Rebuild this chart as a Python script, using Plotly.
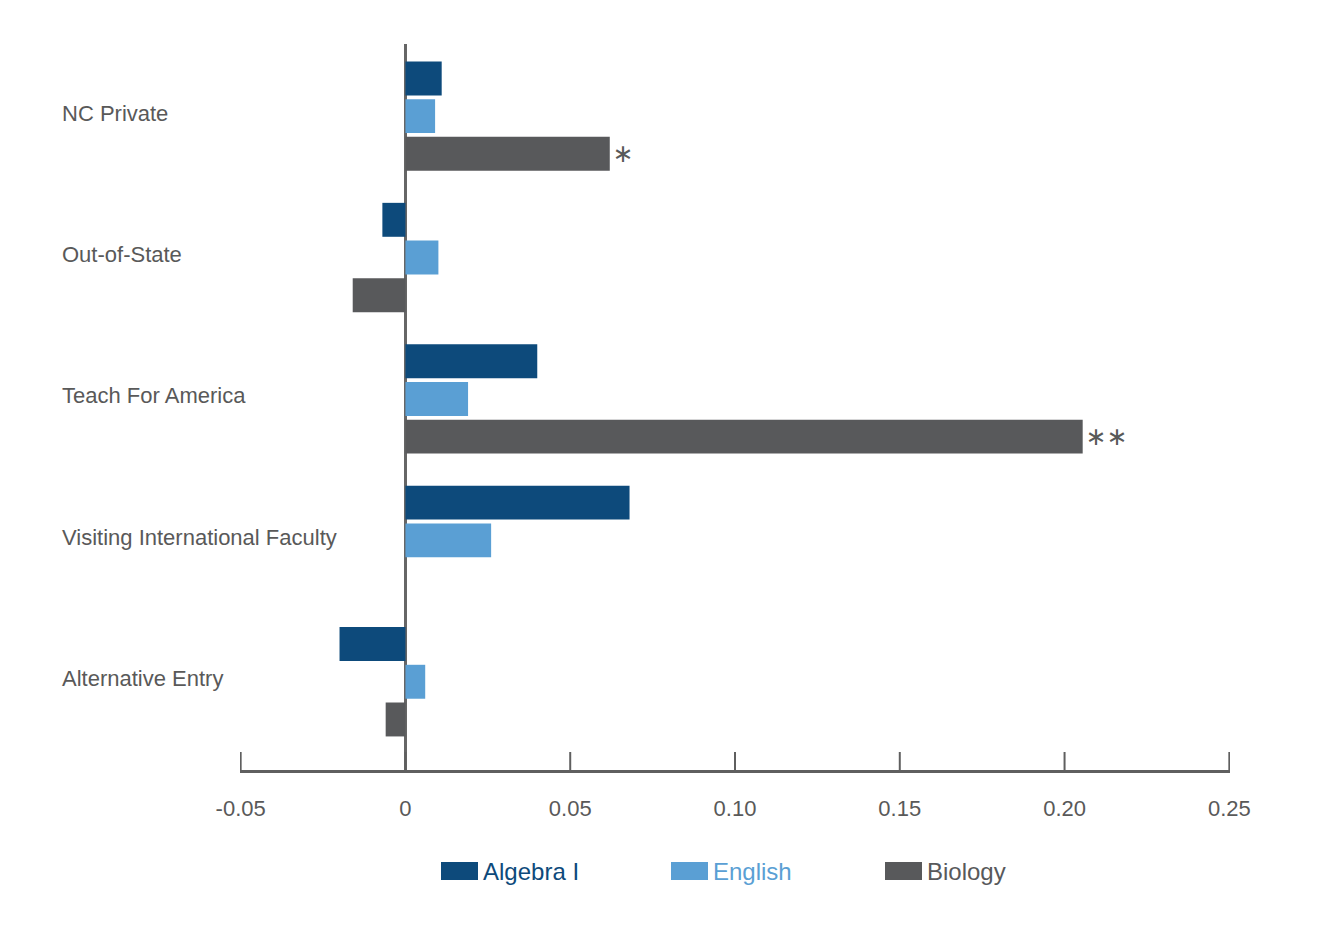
import plotly.graph_objects as go

# ---- data ----
categories = ["NC Private", "Out-of-State", "Teach For America",
              "Visiting International Faculty", "Alternative Entry"]
series_names = ["Algebra I", "English", "Biology"]
algebra = [0.011, -0.007, 0.040, 0.068, -0.020]
english = [0.009, 0.010, 0.019, 0.026, 0.006]
biology = [0.062, -0.016, 0.2055, None, -0.006]
biology_sig = ["*", "", "**", "", ""]
tick_vals = [-0.05, 0, 0.05, 0.10, 0.15, 0.20, 0.25]
tick_text = ["-0.05", "0", "0.05", "0.10", "0.15", "0.20", "0.25"]

# ---- styles ----
colors = ["#0d4a7b", "#5a9fd4", "#58595b"]
text_gray = "#595959"
axis_gray = "#5f5f5f"
font_family = "Liberation Sans, Arial, sans-serif"

# page body has an 8px default margin; the figure is sized to fit the window
OFF = 8
W, H = 1343 - OFF, 935 - OFF
L, T = 240 - OFF, 44 - OFF
R = W - (1230 - OFF)
B = H - (770 - OFF)
pw, ph = W - L - R, H - T - B


def px_to_paper_x(px):  # px in window coordinates
    return (px - OFF - L) / pw


def px_to_paper_y(py):
    return (H - B - (py - OFF)) / ph


fig = go.Figure()
values = [algebra, english, biology]
for i, (name, vals) in enumerate(zip(series_names, values)):
    kw = {}
    if name == "Biology":
        kw = dict(text=[s.replace("*", "\u2217") for s in biology_sig],
                  textposition="outside", cliponaxis=False,
                  constraintext="none",
                  textfont=dict(size=25, color=text_gray,
                                family="DejaVu Sans"))
    fig.add_trace(go.Bar(
        y=categories, x=vals, name=name, orientation="h",
        marker=dict(color=colors[i], line=dict(width=0)),
        showlegend=False, hoverinfo="x+y+name", **kw))

shapes = []
annotations = []

# tick marks (inside, pointing up) drawn on the x scale so the end ticks show
tick_len_paper = 18 / ph
for tv in tick_vals:
    shapes.append(dict(type="line", xref="x", yref="paper", x0=tv, x1=tv,
                       y0=0, y1=tick_len_paper,
                       line=dict(color=axis_gray, width=2)))

for c in categories:
    annotations.append(dict(
        xref="paper", yref="y", x=px_to_paper_x(62), y=c, xanchor="left",
        yanchor="middle", text=c, showarrow=False, yshift=3, xshift=-2,
        font=dict(size=22, color=text_gray, family=font_family)))

# manual legend
legend_swatch_x = [441, 671, 885]
sw_w, sw_y0, sw_y1 = 37, 862, 880
for i, name in enumerate(series_names):
    x0 = legend_swatch_x[i]
    shapes.append(dict(type="rect", xref="paper", yref="paper",
                       x0=px_to_paper_x(x0), x1=px_to_paper_x(x0 + sw_w),
                       y0=px_to_paper_y(sw_y1), y1=px_to_paper_y(sw_y0),
                       fillcolor=colors[i], line=dict(width=0)))
    annotations.append(dict(
        xref="paper", yref="paper", x=px_to_paper_x(x0 + sw_w + 3),
        y=px_to_paper_y((sw_y0 + sw_y1) / 2), xanchor="left", yanchor="middle",
        text=name, showarrow=False,
        font=dict(size=24, color=colors[i], family=font_family)))

fig.update_layout(
    width=W, height=H,
    margin=dict(l=L, r=R, t=T, b=B, pad=0),
    paper_bgcolor="white", plot_bgcolor="white",
    barmode="group", bargap=0.2, bargroupgap=0.1,
    font=dict(family=font_family, color=text_gray),
    shapes=shapes, annotations=annotations,
    xaxis=dict(range=[-0.0502, 0.2502], tickvals=tick_vals, ticktext=tick_text,
               showgrid=False, zeroline=True, zerolinecolor="#666666",
               zerolinewidth=3, showline=True, linecolor=axis_gray,
               linewidth=2.5, ticks="", ticklabelstandoff=17,
               tickfont=dict(size=22, color=text_gray, family=font_family)),
    yaxis=dict(type="category", categoryarray=categories,
               categoryorder="array", range=[4.624, -0.51],
               showticklabels=False, showgrid=False, zeroline=False,
               showline=False, ticks=""),
)

fig.write_html("out.html")
